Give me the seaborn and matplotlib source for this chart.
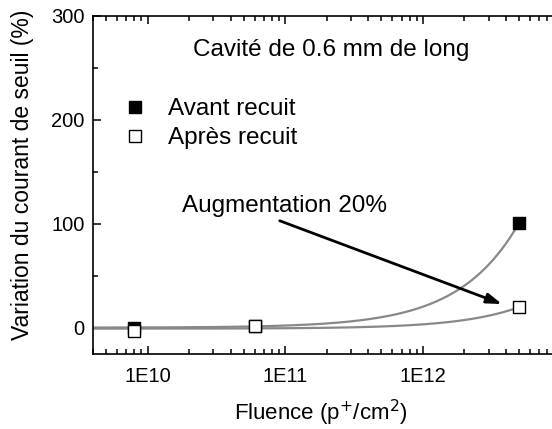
import numpy as np
import pandas as pd
import seaborn as sns
import matplotlib
matplotlib.use("Agg")
import matplotlib.pyplot as plt
from matplotlib.lines import Line2D
from matplotlib.ticker import FixedLocator, LogLocator, MultipleLocator, NullFormatter

# Fluence values (p+/cm2) and threshold-current variation (%)
fluence = [8e9, 6e10, 5e12]
avant_recuit = [0.0, 2.0, 101.0]
apres_recuit = [-2.5, 1.5, 20.0]

xticks = [1e10, 1e11, 1e12]
xtick_labels = ["1E10", "1E11", "1E12"]
yticks = [0, 100, 200, 300]

sns.set_style("ticks")
plt.rcParams["font.family"] = ["Liberation Sans", "DejaVu Sans"]
plt.rcParams["text.color"] = "black"
plt.rcParams["axes.labelcolor"] = "black"

fig = plt.figure(figsize=(5.52, 4.29), dpi=100)
ax = fig.add_axes([93 / 552, 1 - 354 / 429, (560.5 - 93) / 552, (354 - 15.7) / 429])

df = pd.DataFrame({
    "fluence": fluence * 2,
    "variation": avant_recuit + apres_recuit,
    "serie": ["Avant recuit"] * 3 + ["Après recuit"] * 3,
})

# Linear fits of each series, drawn on a log-spaced grid
grid = np.logspace(np.log10(4e9), np.log10(fluence[-1]), 400)
for vals in (avant_recuit, apres_recuit):
    a, b = np.polyfit(fluence, vals, 1)
    fit = pd.DataFrame({"x": grid, "y": a * grid + b})
    sns.lineplot(data=fit, x="x", y="y", ax=ax, color="#888888", lw=1.6, zorder=2)

sns.scatterplot(data=df[df.serie == "Avant recuit"], x="fluence", y="variation",
                marker="s", s=82, color="black", edgecolor="black", linewidth=1.0,
                ax=ax, zorder=3, legend=False)
sns.scatterplot(data=df[df.serie == "Après recuit"], x="fluence", y="variation",
                marker="s", s=82, color="white", edgecolor="black", linewidth=1.0,
                ax=ax, zorder=4, legend=False)

ax.set_xscale("log")
ax.set_xlim(4e9, 1e13)
ax.set_ylim(-25, 300)

ax.xaxis.set_major_locator(FixedLocator(xticks))
ax.set_xticklabels(xtick_labels)
ax.xaxis.set_minor_locator(LogLocator(base=10, subs=np.arange(2, 10)))
ax.xaxis.set_minor_formatter(NullFormatter())
ax.yaxis.set_major_locator(FixedLocator(yticks))
ax.yaxis.set_minor_locator(MultipleLocator(50))

ax.tick_params(which="both", direction="in", top=True, right=True, width=1.1,
               labelsize=14.5, colors="black", pad=6)
ax.tick_params(axis="x", which="major", pad=9)
ax.tick_params(which="major", length=6)
ax.tick_params(which="minor", length=3.5)
for s in ax.spines.values():
    s.set_visible(True)
    s.set_linewidth(1.2)
    s.set_color("black")

ax.set_xlabel("Fluence (p$^{+}$/cm$^{2}$)", fontsize=16, color="black")
ax.xaxis.set_label_coords(0.488, -0.128)
ax.set_ylabel("Variation du courant de seuil (%)", fontsize=16.5, color="black")
ax.yaxis.set_label_coords(-0.126, 0.53)

ax.text(2.16e11, 267, "Cavité de 0.6 mm de long", fontsize=17.5, ha="center",
        va="center", color="black")
ax.text(9.9e10, 117, "Augmentation 20%", fontsize=17.5, ha="center", va="center",
        color="black")
ax.annotate("", xy=(3.75e12, 23), xytext=(9.1e10, 103),
            arrowprops=dict(arrowstyle="-|>,head_length=0.9,head_width=0.3",
                            color="black", lw=2, shrinkA=0, shrinkB=0))

handles = [
    Line2D([], [], ls="none", marker="s", ms=9, mfc="black", mec="black", mew=1.0),
    Line2D([], [], ls="none", marker="s", ms=9, mfc="white", mec="black", mew=1.0),
]
leg = ax.legend(handles, ["Avant recuit", "Après recuit"], frameon=False, fontsize=17.5,
                loc="upper left", bbox_to_anchor=(0.043, 0.785), handlelength=1.0,
                handletextpad=0.85, labelspacing=0.3, borderaxespad=0)
for t in leg.get_texts():
    t.set_color("black")

fig.savefig("out.png", dpi=100)
